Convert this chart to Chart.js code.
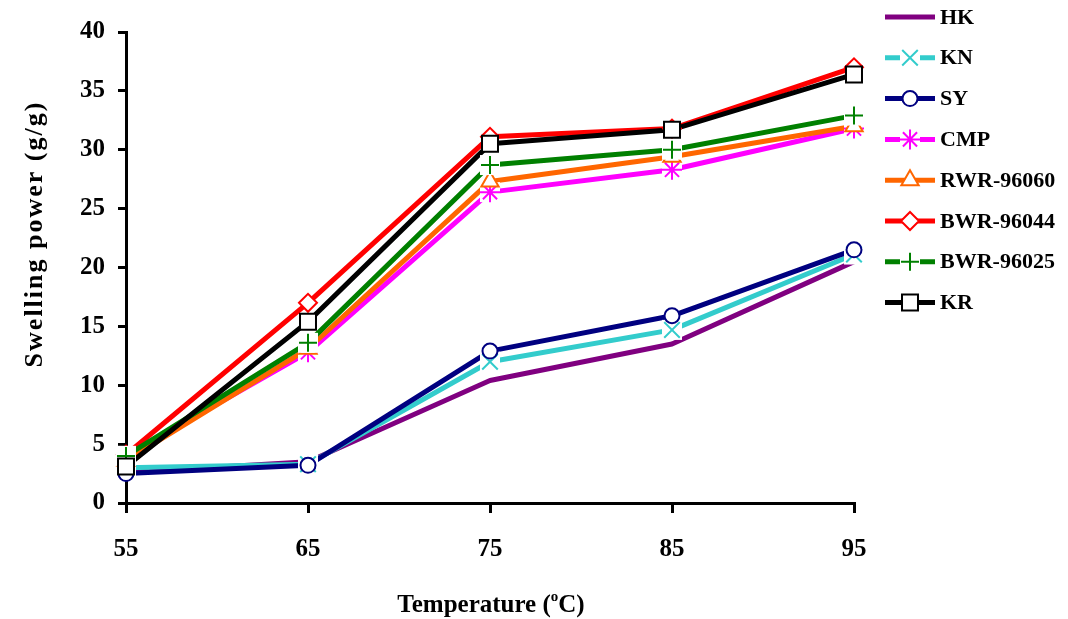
<!DOCTYPE html>
<html>
<head>
<meta charset="utf-8">
<script src="https://cdn.jsdelivr.net/npm/chart.js@4.4.1/dist/chart.umd.min.js"></script>
<style>
  html, body { margin: 0; padding: 0; background: #ffffff; }
  #wrap { width: 1068px; height: 619px; }
</style>
</head>
<body>
<div id="wrap"><canvas id="swellChart"></canvas></div>
<script>
// data
const temps = ['55', '65', '75', '85', '95'];
const yTicks = [0, 5, 10, 15, 20, 25, 30, 35, 40];
const seriesNames = ['HK', 'KN', 'SY', 'CMP', 'RWR-96060', 'BWR-96044', 'BWR-96025', 'KR'];
const hk       = [2.6, 3.5, 10.4, 13.5, 20.5];
const kn       = [3.0, 3.3, 12.0, 14.7, 21.1];
const sy       = [2.5, 3.2, 12.9, 15.9, 21.5];
const cmp      = [4.0, 12.8, 26.4, 28.3, 31.8];
const rwr96060 = [3.6, 13.1, 27.3, 29.4, 32.0];
const bwr96044 = [4.1, 17.0, 31.1, 31.8, 37.0];
const bwr96025 = [4.0, 13.6, 28.7, 30.0, 32.9];
const kr       = [3.1, 15.4, 30.5, 31.7, 36.4];
const seriesValues = [hk, kn, sy, cmp, rwr96060, bwr96044, bwr96025, kr];

// styles
const colors = ['#800080', '#33cccc', '#000080', '#ff00ff', '#ff6600', '#ff0000', '#008000', '#000000'];
const markers = [
    null,
    { shape: 'crossRot', r: 11, box: 10 },
    { shape: 'circle', r: 7.5 },
    { shape: 'star', r: 10, box: 10 },
    { shape: 'triangle', r: 10 },
    { shape: 'rectRot', r: 9 },
    { shape: 'cross', r: 9, box: 10 },
    { shape: 'rect', r: 11.3 }
];
const FONT = "'Liberation Serif', 'Times New Roman', serif";

function drawMarker(ctx, m, x, y, color) {
    if (!m) return;
    ctx.save();
    ctx.fillStyle = '#ffffff';
    if (m.box) ctx.fillRect(x - m.box, y - m.box, m.box * 2, m.box * 2);
    ctx.strokeStyle = color;
    ctx.lineWidth = 2;
    Chart.helpers.drawPoint(ctx, { pointStyle: m.shape, radius: m.r, rotation: 0, borderWidth: 2 }, x, y);
    ctx.restore();
}

// markers drawn after all lines, with white backs like the original
const markerPlugin = {
    id: 'markers',
    afterDatasetsDraw(chart) {
        const ctx = chart.ctx;
        chart.data.datasets.forEach((ds, i) => {
            const meta = chart.getDatasetMeta(i);
            meta.data.forEach(pt => drawMarker(ctx, markers[i], pt.x, pt.y, colors[i]));
        });
    }
};

// legend + axis titles
const decorPlugin = {
    id: 'decor',
    afterDraw(chart) {
        const ctx = chart.ctx;
        ctx.save();
        ctx.fillStyle = '#000';
        ctx.textBaseline = 'middle';
        ctx.font = 'bold 22px ' + FONT;
        seriesNames.forEach((name, i) => {
            const y = 17 + i * 40.8;
            ctx.strokeStyle = colors[i];
            ctx.lineWidth = 5;
            ctx.beginPath();
            ctx.moveTo(885, y);
            ctx.lineTo(935, y);
            ctx.stroke();
            drawMarker(ctx, markers[i], 910, y, colors[i]);
            ctx.fillStyle = '#000';
            ctx.textAlign = 'left';
            ctx.fillText(name, 940, y + 1);
        });

        // y title
        ctx.save();
        ctx.translate(35, 234);
        ctx.rotate(-Math.PI / 2);
        ctx.textAlign = 'center';
        ctx.font = 'bold 26px ' + FONT;
        ctx.letterSpacing = '2px';
        ctx.fillText('Swelling power (g/g)', 0, 0);
        ctx.restore();

        // x title with superscript o
        ctx.textBaseline = 'alphabetic';
        ctx.textAlign = 'left';
        ctx.font = 'bold 25px ' + FONT;
        const a = 'Temperature (';
        const b = 'C)';
        const wa = ctx.measureText(a).width;
        const wb = ctx.measureText(b).width;
        ctx.font = 'bold 15px ' + FONT;
        const wo = ctx.measureText('o').width;
        const x0 = 491 - (wa + wo + wb) / 2;
        const base = 612;
        ctx.font = 'bold 25px ' + FONT;
        ctx.fillText(a, x0, base);
        ctx.font = 'bold 15px ' + FONT;
        ctx.fillText('o', x0 + wa, base - 11);
        ctx.font = 'bold 25px ' + FONT;
        ctx.fillText(b, x0 + wa + wo, base);
        ctx.restore();
    }
};

const datasets = seriesNames.map((name, i) => ({
    label: name,
    data: seriesValues[i],
    borderColor: colors[i],
    backgroundColor: colors[i],
    borderWidth: 5,
    pointRadius: 0,
    pointHoverRadius: 0,
    fill: false,
    tension: 0,
    borderJoinStyle: 'round',
    order: seriesNames.length - i
}));

const ctx = document.getElementById('swellChart').getContext('2d');
const swellChart = new Chart(ctx, {
    type: 'line',
    data: { labels: temps, datasets: datasets },
    options: {
        responsive: true,
        maintainAspectRatio: false,
        animation: false,
        events: [],
        layout: { padding: { top: 32, right: 214, left: 0, bottom: 0 } },
        plugins: {
            legend: { display: false },
            tooltip: { enabled: false }
        },
        scales: {
            x: {
                offset: false,
                grid: { drawOnChartArea: false, drawTicks: true, tickLength: 10, color: '#000', lineWidth: 3, offset: false },
                border: { color: '#000', width: 3 },
                ticks: { color: '#000', padding: 22, maxRotation: 0, font: { family: FONT, size: 25, weight: 'bold' } },
                afterFit(scale) { scale.height = 116; }
            },
            y: {
                min: yTicks[0],
                max: yTicks[yTicks.length - 1],
                grid: { drawOnChartArea: false, drawTicks: true, tickLength: 8, color: '#000', lineWidth: 3 },
                border: { color: '#000', width: 3 },
                ticks: { stepSize: yTicks[1] - yTicks[0], color: '#000', padding: 13, font: { family: FONT, size: 25, weight: 'bold' } },
                afterFit(scale) { scale.width = 126; }
            }
        }
    },
    plugins: [markerPlugin, decorPlugin]
});
</script>
</body>
</html>
